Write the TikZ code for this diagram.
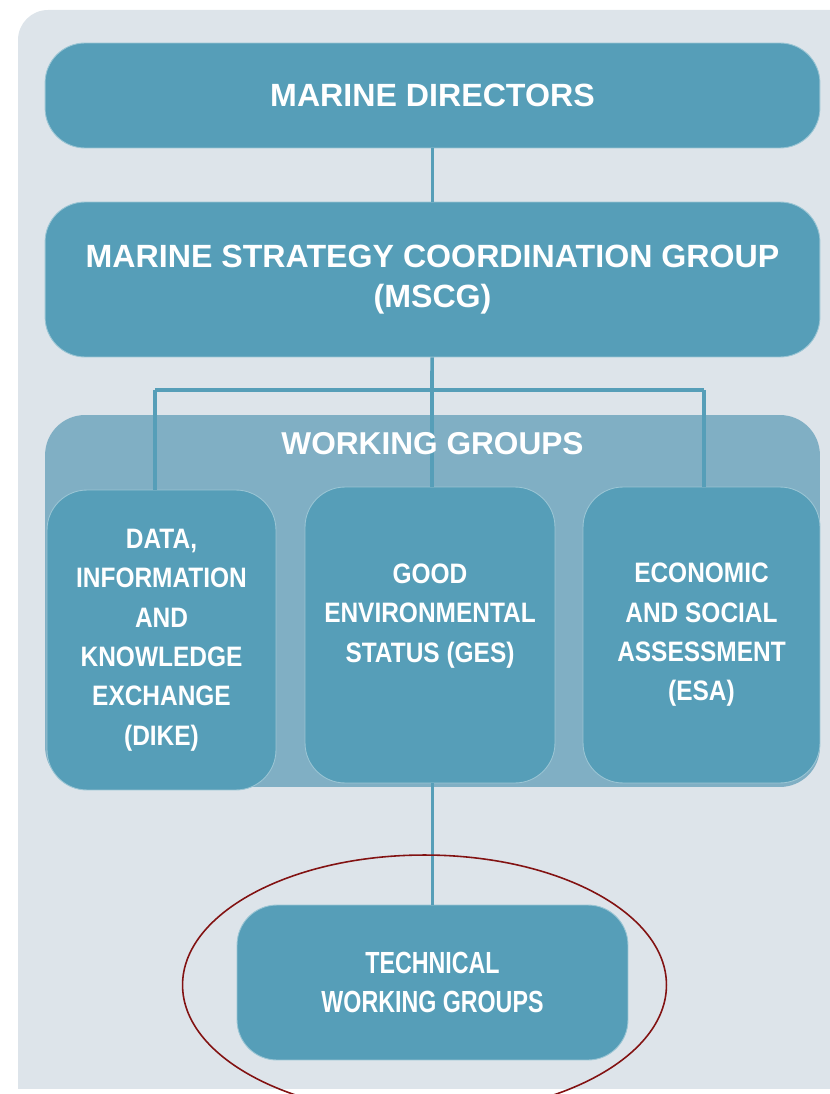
\documentclass[tikz,border=0pt]{standalone}
\usepackage{fontspec}
\setmainfont{Liberation Sans}
\newfontfamily\narrowfont{Liberation Sans}[FakeStretch=0.87]
\newfontfamily\tightfont{Liberation Sans}[FakeStretch=0.76]
\usetikzlibrary{positioning}
\definecolor{boxblue}{RGB}{86,158,184}
\definecolor{panelblue}{RGB}{128,175,196}
\definecolor{backgray}{RGB}{221,228,234}
\definecolor{ringred}{RGB}{130,18,18}
\tikzset{
  link/.style={draw=boxblue, line width=2.1pt},
}

\begin{document}
\begin{tikzpicture}[x=0.02cm, y=-0.02cm,
        board/.style={rectangle, rounded corners=0.8cm, fill=boxblue, draw=boxblue!60!white,
        line width=0.5pt, text=white, align=center,
        font={\bfseries\fontsize{18.3}{22.7}\selectfont}, minimum width=15.5cm},
        group/.style={rectangle, rounded corners=0.8cm, fill=boxblue, draw=boxblue!60!white,
        line width=0.5pt, text=white, align=center, minimum height=5.92cm,
        font={\narrowfont\bfseries\fontsize{16}{22.4}\selectfont}},
        panel/.style={rectangle, rounded corners=0.8cm, fill=panelblue, minimum width=15.5cm,
        minimum height=7.44cm},
        ]
    \useasboundingbox (0,0) rectangle (830,1094);
    \begin{scope}
      \clip (0,0) rectangle (830,1088);
      \fill[backgray, rounded corners=0.6cm] (18,10) rectangle (900,1200);
    \end{scope}

    \node[board, minimum height=2.1cm] (md) at (432.5,95.5) {MARINE DIRECTORS};
    \node[board, minimum height=3.1cm] (mscg) at (432.5,279.5)
      {MARINE STRATEGY COORDINATION GROUP\\(MSCG)};
    \node[panel] (wg) at (432.5,601) {};

    \coordinate (split) at (432,390);
    \coordinate (lft) at (155,390);
    \coordinate (rgt) at (704,390);

    \node[group, minimum width=4.58cm, minimum height=6cm] (dike) at (161.5,640)
      {DATA,\\INFORMATION\\AND\\KNOWLEDGE\\EXCHANGE\\(DIKE)};
    \node[group, minimum width=5cm] (ges) at (430,635)
      {GOOD\\ENVIRONMENTAL\\STATUS (GES)\\[-4pt]\strut};
    \node[group, minimum width=4.74cm] (esa) at (701.5,635)
      {ECONOMIC\\AND SOCIAL\\ASSESSMENT\\(ESA)};
    \node[board, font={\tightfont\bfseries\fontsize{17.4}{22.4}\selectfont},
      minimum width=7.82cm, minimum height=3.1cm] (twg) at (432.5,982.5)
      {TECHNICAL\\WORKING GROUPS};

    \draw[link] (md) -- (mscg);
    \draw[link] (mscg) -- (split);
    \draw[link] (lft) -- (rgt);
    \draw[link] (lft) -- (lft |- dike.north);
    \draw[link] (split) -- (split |- ges.north);
    \draw[link] (rgt) -- (rgt |- esa.north);
    \draw[link] (twg.north |- ges.south) -- (twg.north);

    \node[text=white, font={\bfseries\fontsize{18}{21}\selectfont}] (wgtitle) at (432.5,444)
      {WORKING GROUPS};

    \draw[ringred, line width=0.9pt] (424.5,985) ellipse [x radius=4.84cm, y radius=2.6cm];
  \end{tikzpicture}
\end{document}
